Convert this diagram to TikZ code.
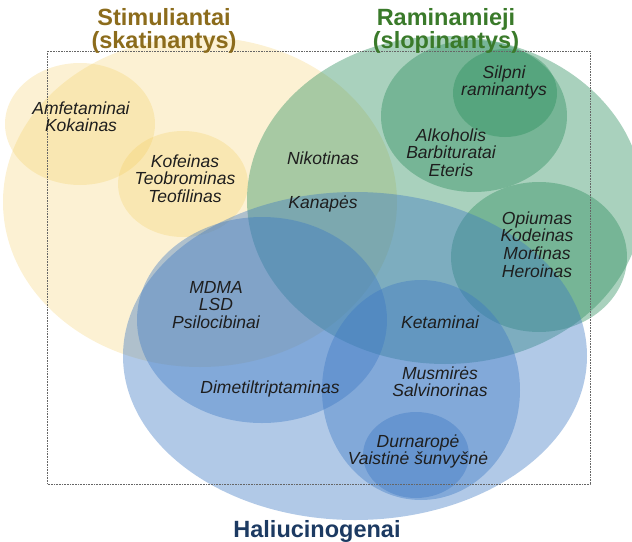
\documentclass[tikz,border=0pt]{standalone}
\usepackage{fontspec}
\setmainfont{Liberation Sans}
\definecolor{yel}{RGB}{242,200,80}
\definecolor{grn}{RGB}{40,140,90}
\definecolor{blu}{RGB}{60,120,195}
\definecolor{ttlY}{RGB}{140,108,28}
\definecolor{ttlG}{RGB}{58,122,42}
\definecolor{ttlB}{RGB}{28,58,98}
\definecolor{txt}{RGB}{30,30,30}
\newcommand{\mlines}[1]{\begin{tabular}[t]{@{}c@{}}#1\end{tabular}}
\begin{document}
\begin{tikzpicture}[x=1pt,y=-1pt,
 yfill/.style={fill=yel, fill opacity=0.25},
 gfill/.style={fill=grn, fill opacity=0.4},
 bfill/.style={fill=blu, fill opacity=0.4},
 lbl/.style={font=\fontsize{17.5}{17.5}\selectfont\itshape, text=txt, inner sep=0pt, anchor=base},
 ttl/.style={font=\fontsize{23.5}{22}\selectfont\bfseries, inner sep=0pt, anchor=base},
 frame/.style={draw=black!60, line width=0.6pt, dash pattern=on 0.7pt off 0.9pt}]
\useasboundingbox (0,0) rectangle (632,541);
\begin{scope}
\clip (0,0) rectangle (632,541);
% Stimuliantai
\fill[yfill] (200,202) ellipse [x radius=197pt, y radius=165pt];
\fill[yfill] (80,124) ellipse [x radius=75pt, y radius=61pt];
\fill[yfill] (183,184) ellipse [x radius=65pt, y radius=53pt];
% Raminamieji
\fill[gfill] (445,200) ellipse [x radius=198pt, y radius=164pt];
\fill[gfill] (474,116) ellipse [x radius=93pt, y radius=76pt];
\fill[gfill] (505,93) ellipse [x radius=52pt, y radius=44pt];
\fill[gfill] (539,257) ellipse [x radius=88pt, y radius=75pt];
% Haliucinogenai
\fill[bfill] (355,356) ellipse [x radius=232pt, y radius=164pt];
\fill[bfill] (262,320) ellipse [x radius=125pt, y radius=103pt];
\fill[bfill] (421,390) ellipse [x radius=99pt, y radius=110pt];
\fill[bfill] (416,455) ellipse [x radius=53pt, y radius=43pt];
\end{scope}
\draw[frame] (47,51) rectangle (590,484);
% titles
\node[ttl, text=ttlY] (tS) at (164,25) {\mlines{Stimuliantai\\(skatinantys)}};
\node[ttl, text=ttlG] (tR) at (446,25) {\mlines{Raminamieji\\(slopinantys)}};
\node[ttl, text=ttlB] (tH) at (317,537) {Haliucinogenai};
% labels
\node[lbl] (amf) at (81,114) {\mlines{Amfetaminai\\Kokainas}};
\node[lbl] (kof) at (185,167) {\mlines{Kofeinas\\Teobrominas\\Teofilinas}};
\node[lbl] (nik) at (323,164) {Nikotinas};
\node[lbl] (kan) at (323,208) {Kanapės};
\node[lbl] (sil) at (504,78) {\mlines{Silpni\\raminantys}};
\node[lbl] (alk) at (451,141) {\mlines{Alkoholis\\Barbituratai\\Eteris}};
\node[lbl] (opi) at (537,224) {\mlines{Opiumas\\Kodeinas\\Morfinas\\Heroinas}};
\node[lbl] (mdma) at (216,293) {\mlines{MDMA\\LSD\\Psilocibinai}};
\node[lbl] (dmt) at (270,393) {Dimetiltriptaminas};
\node[lbl] (ket) at (440,328) {Ketaminai};
\node[lbl] (mus) at (440,379) {\mlines{Musmirės\\Salvinorinas}};
\node[lbl] (dur) at (418,447) {\mlines{Durnaropė\\Vaistinė šunvyšnė}};
\end{tikzpicture}
\end{document}
